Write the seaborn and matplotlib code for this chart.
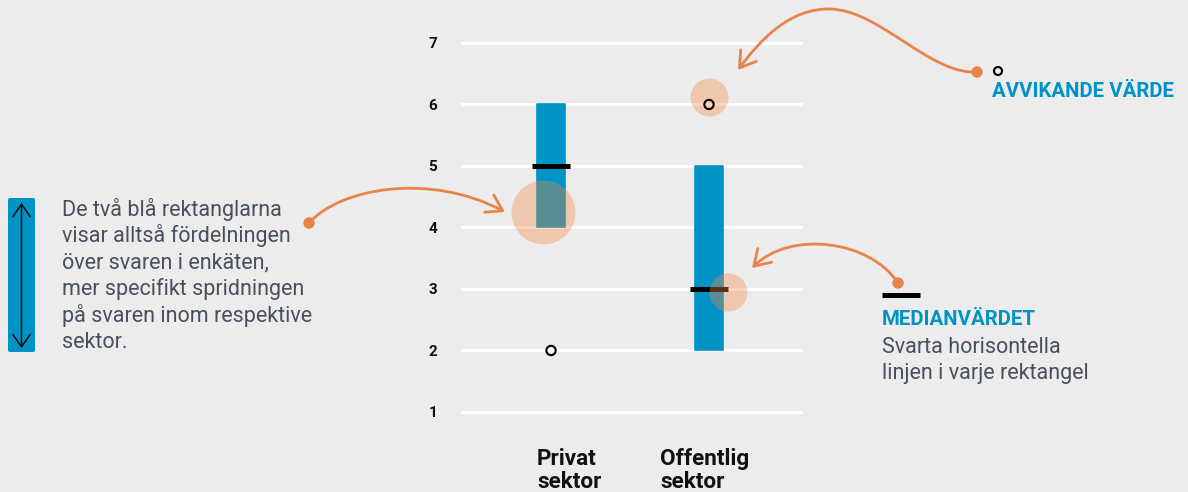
import matplotlib
matplotlib.use("Agg")
import matplotlib.pyplot as plt
import seaborn as sns
import numpy as np
import pandas as pd
from matplotlib.patches import FancyArrowPatch, FancyBboxPatch, Circle
from matplotlib.path import Path
from matplotlib import transforms

# ---- data ----
categories = ["Privat\nsektor", "Offentlig\nsektor"]
q1 = [4, 2]
median = [5, 3]
q3 = [6, 5]
outlier_cat = ["Privat\nsektor", "Offentlig\nsektor"]
outlier_val = [2, 6]
yticks = [1, 2, 3, 4, 5, 6, 7]

BG = "#ececec"
BLUE = "#0093c5"
ORANGE = "#e8834a"
PEACH = "#f78843"
SLATE = "#47505e"

sns.set_theme(style="white")
plt.rcParams["font.family"] = ["Roboto", "DejaVu Sans"]

fig = plt.figure(figsize=(11.88, 4.92), dpi=100, facecolor=BG)
ax = fig.add_axes([461 / 1188, 62 / 492, 342 / 1188, 400 / 492])
ax.set_facecolor(BG)

df = pd.DataFrame({"cat": categories, "height": np.array(q3) - np.array(q1)})
sns.barplot(data=df, x="cat", y="height", order=categories, bottom=q1,
            color=BLUE, saturation=1, width=0.18, errorbar=None, ax=ax,
            edgecolor=BLUE, linewidth=1.2, zorder=3)
for p in ax.patches:
    p.set_joinstyle("round")

pos = np.arange(len(categories))
ax.hlines(median, pos - 0.12, pos + 0.12, color="black", lw=3.6, zorder=4)

opos = [categories.index(c) for c in outlier_cat]
ax.scatter(opos, outlier_val, s=45, facecolors="none", edgecolors="black",
           linewidths=1.5, zorder=8)

ax.set_xlim(-0.57, 1.595)
ax.set_ylim(0.707, 7.211)
ax.set_yticks(yticks)
ax.set_yticklabels([str(v) for v in yticks], fontweight="bold", fontsize=11, color="#111111")
ax.tick_params(axis="y", length=0, pad=17)
ax.set_xticks([])
ax.set_xlabel("")
ax.set_ylabel("")
for s in ax.spines.values():
    s.set_visible(False)
ax.grid(axis="y", color="white", lw=2.2, zorder=0)
ax.set_axisbelow(True)

# highlight circles (data-anchored)
ax.scatter([pos[0] - 0.05], [q1[0] + 0.25], s=2120, color=PEACH, alpha=0.36, lw=0, zorder=6, clip_on=False)
ax.scatter([opos[1]], [outlier_val[1] + 0.12], s=750, color=PEACH, alpha=0.36, lw=0, zorder=6, clip_on=False)
ax.scatter([pos[1] + 0.12], [median[1] - 0.05], s=750, color=PEACH, alpha=0.36, lw=0, zorder=6, clip_on=False)

# overlay in pixel coordinates
ov = fig.add_axes([0, 0, 1, 1], zorder=10)
ov.set_xlim(0, 1188)
ov.set_ylim(492, 0)
ov.axis("off")
ov.patch.set_alpha(0)

# category labels
bt = transforms.blended_transform_factory(ax.transData, ov.transData)
label_left = [-0.089, 0.69]
for i, c in enumerate(categories):
    for j, line in enumerate(c.split("\n")):
        ov.text(label_left[i], 465 + 23 * j, line, transform=bt, ha="left", va="baseline",
                fontsize=16.2, fontweight="bold", color="#111111")

arrow_style = matplotlib.patches.ArrowStyle("->", head_length=0.55, head_width=0.35)

def draw_arrow(verts, codes):
    pth = Path(verts, codes)
    a = FancyArrowPatch(path=pth, arrowstyle=arrow_style, mutation_scale=20,
                        color=ORANGE, lw=2, transform=ov.transData)
    ov.add_patch(a)
    ov.add_patch(Circle(verts[0], 5, color=ORANGE, transform=ov.transData))

C4 = Path.CURVE4
draw_arrow([(309, 223), (340, 188), (430, 172), (505, 212)], [Path.MOVETO, C4, C4, C4])
draw_arrow([(977, 72), (930, 75), (880, 10), (830, 9), (790, 8), (760, 40), (738, 70)],
           [Path.MOVETO, C4, C4, C4, C4, C4, C4])
draw_arrow([(898, 283), (870, 240), (790, 230), (752, 268)], [Path.MOVETO, C4, C4, C4])

# left legend
ov.add_patch(FancyBboxPatch((8, 198), 27, 154, boxstyle="round,pad=0,rounding_size=2",
                            color=BLUE, lw=0))
ov.annotate("", xy=(21.5, 203), xytext=(21.5, 348),
            arrowprops=dict(arrowstyle="<->, head_length=0.5, head_width=0.35", color="black",
                            lw=1, mutation_scale=18, shrinkA=0, shrinkB=0))
left_lines = ["De två blå rektanglarna", "visar alltså fördelningen", "över svaren i enkäten,",
              "mer specifikt spridningen", "på svaren inom respektive", "sektor."]
for i, line in enumerate(left_lines):
    ov.text(62, 216 + 26.4 * i, line, ha="left", va="baseline", fontsize=15.5, color=SLATE)

# outlier legend
ov.add_patch(Circle((998, 71), 4, facecolor="none", edgecolor="black", lw=1.5))
ov.text(992, 96.7, "AVVIKANDE VÄRDE", ha="left", va="baseline", fontsize=14.7,
        fontweight="bold", color=BLUE)

# median legend
ov.plot([882, 920], [294.5, 294.5], color="black", lw=3.6, solid_capstyle="butt")
ov.text(882, 325, "MEDIANVÄRDET", ha="left", va="baseline", fontsize=14.7,
        fontweight="bold", color=BLUE)
ov.text(882, 353, "Svarta horisontella", ha="left", va="baseline", fontsize=15.5, color=SLATE)
ov.text(882, 379, "linjen i varje rektangel", ha="left", va="baseline", fontsize=15.5, color=SLATE)

fig.savefig("out.png", dpi=100, facecolor=BG)
